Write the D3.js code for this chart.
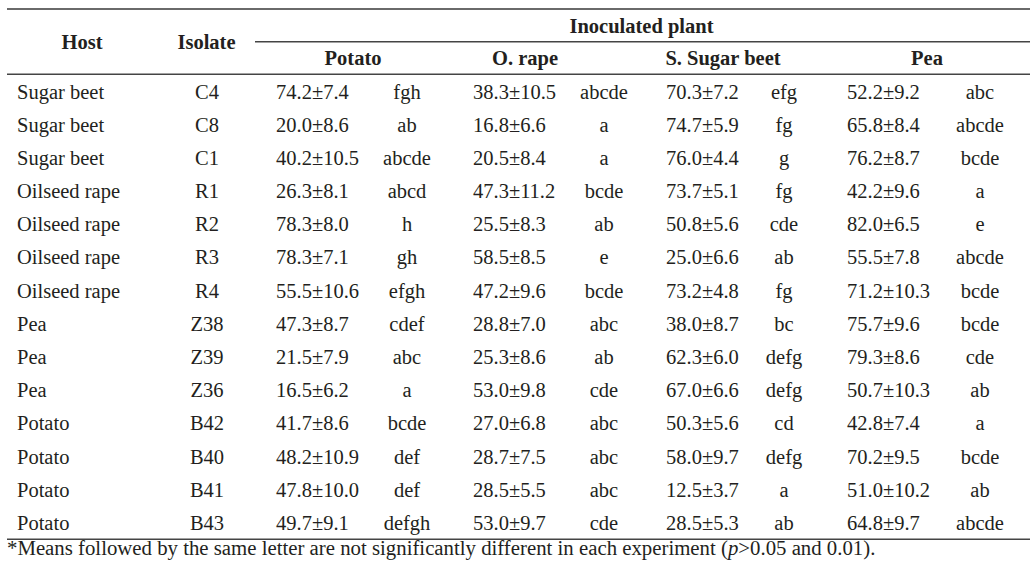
<!DOCTYPE html>
<html>
<head>
<meta charset="utf-8">
<script src="https://cdn.jsdelivr.net/npm/d3@7"></script>
<style>
  html, body { margin: 0; padding: 0; background: #fff; }
  svg { display: block; }
  text { font-family: "Liberation Serif", "Times New Roman", serif; fill: #231f20; }
</style>
</head>
<body>
<svg id="chart" width="1036" height="568"></svg>
<script>
const hosts = ["Sugar beet","Sugar beet","Sugar beet","Oilseed rape","Oilseed rape","Oilseed rape","Oilseed rape","Pea","Pea","Pea","Potato","Potato","Potato","Potato"];
const isolates = ["C4","C8","C1","R1","R2","R3","R4","Z38","Z39","Z36","B42","B40","B41","B43"];
const plants = ["Potato","O. rape","S. Sugar beet","Pea"];

const potatoMean = [74.2,20.0,40.2,26.3,78.3,78.3,55.5,47.3,21.5,16.5,41.7,48.2,47.8,49.7];
const potatoSD   = [7.4,8.6,10.5,8.1,8.0,7.1,10.6,8.7,7.9,6.2,8.6,10.9,10.0,9.1];
const potatoLet  = ["fgh","ab","abcde","abcd","h","gh","efgh","cdef","abc","a","bcde","def","def","defgh"];

const rapeMean = [38.3,16.8,20.5,47.3,25.5,58.5,47.2,28.8,25.3,53.0,27.0,28.7,28.5,53.0];
const rapeSD   = [10.5,6.6,8.4,11.2,8.3,8.5,9.6,7.0,8.6,9.8,6.8,7.5,5.5,9.7];
const rapeLet  = ["abcde","a","a","bcde","ab","e","bcde","abc","ab","cde","abc","abc","abc","cde"];

const beetMean = [70.3,74.7,76.0,73.7,50.8,25.0,73.2,38.0,62.3,67.0,50.3,58.0,12.5,28.5];
const beetSD   = [7.2,5.9,4.4,5.1,5.6,6.6,4.8,8.7,6.0,6.6,5.6,9.7,3.7,5.3];
const beetLet  = ["efg","fg","g","fg","cde","ab","fg","bc","defg","defg","cd","defg","a","ab"];

const peaMean = [52.2,65.8,76.2,42.2,82.0,55.5,71.2,75.7,79.3,50.7,42.8,70.2,51.0,64.8];
const peaSD   = [9.2,8.4,8.7,9.6,6.5,7.8,10.3,9.6,8.6,10.3,7.4,9.5,10.2,9.7];
const peaLet  = ["abc","abcde","bcde","a","e","abcde","bcde","bcde","cde","ab","a","bcde","ab","abcde"];

const footnoteText = "*Means followed by the same letter are not significantly different in each experiment (";
const footnoteItalic = "p";
const footnoteEnd = ">0.05 and 0.01).";

// ---------- layout ----------
const svg = d3.select("#chart");
const fs = 20.5;
const series = [
  {mean: potatoMean, sd: potatoSD, let: potatoLet},
  {mean: rapeMean, sd: rapeSD, let: rapeLet},
  {mean: beetMean, sd: beetSD, let: beetLet},
  {mean: peaMean, sd: peaSD, let: peaLet}
];
const valX = [276, 473, 666, 847];
const letX = [407, 604, 784, 980];
const headX = [353, 525, 723, 927];

const y = d3.scaleLinear().domain([0, 13]).range([98.5, 530]);

const rule = (x1, x2, yy, color, w) =>
  svg.append("line").attr("x1", x1).attr("x2", x2).attr("y1", yy).attr("y2", yy)
     .attr("stroke", color).attr("stroke-width", w);

rule(7, 1030, 9, "#6a6a6a", 1.8);
rule(255, 1030, 41.8, "#444", 1.6);
rule(7, 1030, 74.3, "#444", 1.6);
rule(7, 1030, 539.3, "#444", 1.6);

const bold = (t, x, yy, anchor) =>
  svg.append("text").attr("x", x).attr("y", yy).attr("text-anchor", anchor || "middle")
     .attr("font-weight", "bold").attr("font-size", fs).text(t);

bold("Host", 82, 49);
bold("Isolate", 206.5, 49);
bold("Inoculated plant", 641.5, 32.5);
plants.forEach((p, i) => bold(p, headX[i], 65));

const rows = svg.append("g").selectAll("g").data(d3.range(hosts.length)).join("g")
  .attr("transform", i => `translate(0,${y(i)})`);

rows.append("text").attr("x", 17).attr("font-size", fs).text(i => hosts[i]);
rows.append("text").attr("x", 207).attr("text-anchor", "middle").attr("font-size", fs).text(i => isolates[i]);

series.forEach((s, k) => {
  rows.append("text").attr("x", valX[k]).attr("font-size", fs)
      .text(i => s.mean[i].toFixed(1) + "±" + s.sd[i].toFixed(1));
  rows.append("text").attr("x", letX[k]).attr("text-anchor", "middle").attr("font-size", fs)
      .text(i => s.let[i]);
});

const fn = svg.append("text").attr("x", 7).attr("y", 555).attr("font-size", 20.8);
fn.append("tspan").text(footnoteText);
fn.append("tspan").attr("font-style", "italic").text(footnoteItalic);
fn.append("tspan").text(footnoteEnd);
</script>
</body>
</html>
